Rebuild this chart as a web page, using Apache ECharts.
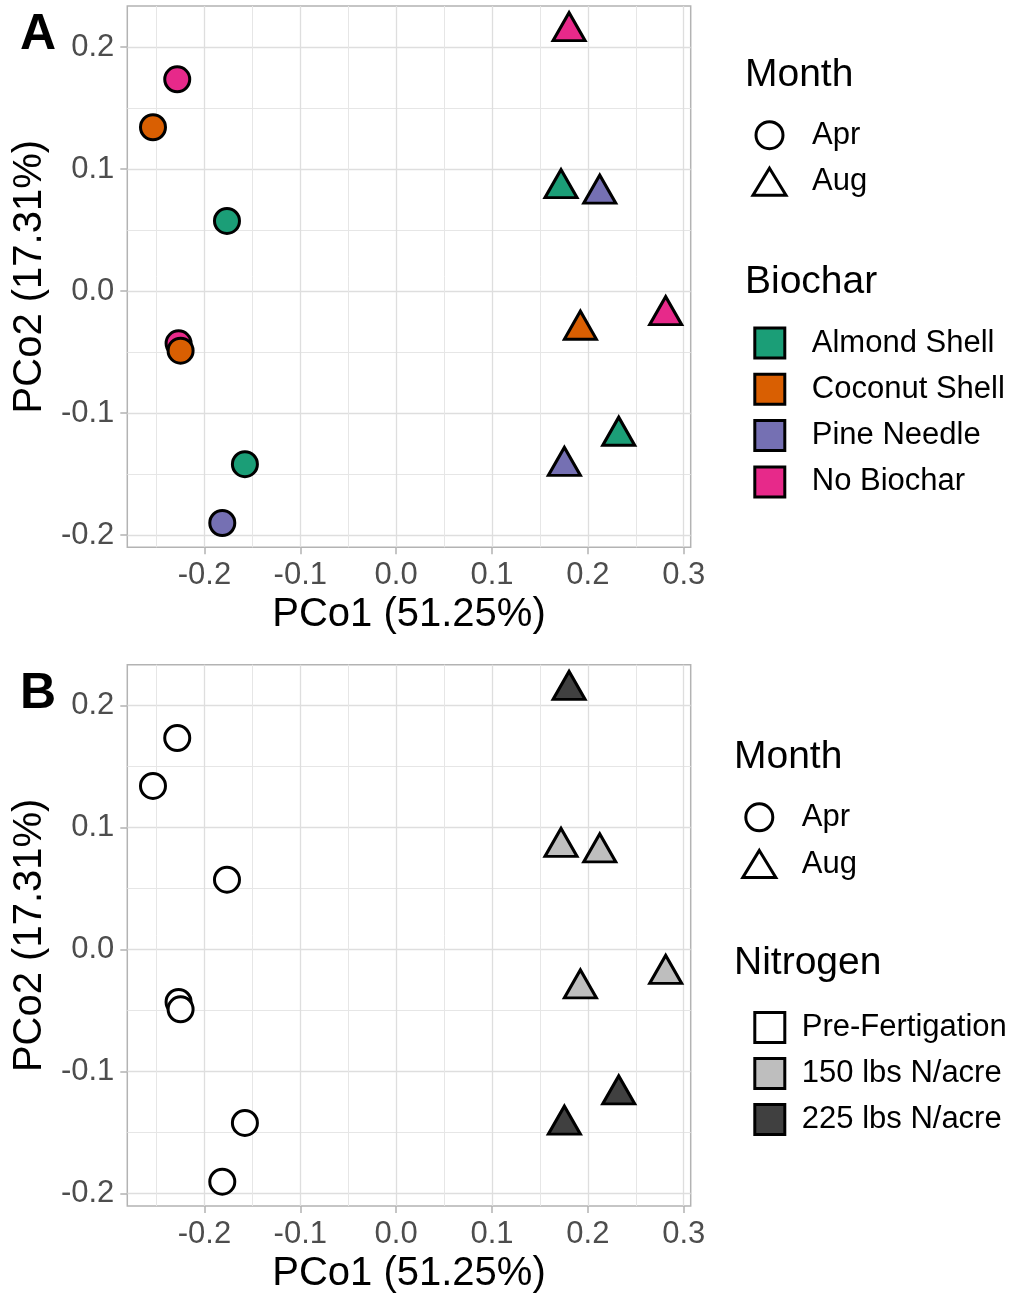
<!DOCTYPE html>
<html>
<head>
<meta charset="utf-8">
<script src="https://cdn.jsdelivr.net/npm/echarts@6/dist/echarts.min.js"></script>
<style>
html,body{margin:0;padding:0;background:#fff;}
#chart{width:1016px;height:1293px;}
</style>
</head>
<body>
<div id="chart"></div>
<script>
// ---------- data ----------
const biocharLevels = ['Almond Shell', 'Coconut Shell', 'Pine Needle', 'No Biochar'];
const nitrogenLevels = ['Pre-Fertigation', '150 lbs N/acre', '225 lbs N/acre'];
const monthLevels = ['Apr', 'Aug'];

const sampleMonth = ['Apr','Apr','Apr','Apr','Apr','Apr','Apr','Aug','Aug','Aug','Aug','Aug','Aug','Aug'];
const sampleBiochar = ['No Biochar','Coconut Shell','Almond Shell','No Biochar','Coconut Shell','Almond Shell','Pine Needle',
                       'No Biochar','Almond Shell','Pine Needle','Coconut Shell','No Biochar','Almond Shell','Pine Needle'];
const sampleNitrogen = ['Pre-Fertigation','Pre-Fertigation','Pre-Fertigation','Pre-Fertigation','Pre-Fertigation','Pre-Fertigation','Pre-Fertigation',
                        '225 lbs N/acre','150 lbs N/acre','150 lbs N/acre','150 lbs N/acre','150 lbs N/acre','225 lbs N/acre','225 lbs N/acre'];
const pco1 = [-0.2284, -0.2537, -0.1765, -0.2270, -0.2249, -0.1578, -0.1814,
               0.1804,  0.1720,  0.2124,  0.1922,  0.2812,  0.2322,  0.1755];
const pco2 = [ 0.1735,  0.1342,  0.0574, -0.0429, -0.0489, -0.1420, -0.1902,
               0.2129,  0.0841,  0.0797, -0.0319, -0.0200, -0.1188, -0.1435];

const xMajorTicks = [-0.2, -0.1, 0, 0.1, 0.2, 0.3];
const xMinorTicks = [-0.25, -0.15, -0.05, 0.05, 0.15, 0.25];
const yMajorTicks = [-0.2, -0.1, 0, 0.1, 0.2];
const yMinorTicks = [-0.15, -0.05, 0.05, 0.15];
const xLimits = [-0.2805, 0.3073];
const yLimits = [-0.2101, 0.2336];

const xTitle = 'PCo1 (51.25%)';
const yTitle = 'PCo2 (17.31%)';

// ---------- styles ----------
const FONT = 'Liberation Sans';
const biocharColor = {'Almond Shell':'#1b9e77','Coconut Shell':'#d95f02','Pine Needle':'#7570b3','No Biochar':'#e7298a'};
const nitrogenColor = {'Pre-Fertigation':'#ffffff','150 lbs N/acre':'#bebebe','225 lbs N/acre':'#404040'};
const monthSymbol = {'Apr':'circle','Aug':'triangle'};

const fmt = v => (Math.abs(v) < 1e-9 ? '0.0' : v.toFixed(1));

function mainAxis(isX, gridIndex) {
  return {
    type: 'value', gridIndex: gridIndex,
    min: isX ? xLimits[0] : yLimits[0],
    max: isX ? xLimits[1] : yLimits[1],
    position: isX ? 'bottom' : 'left',
    name: isX ? xTitle : yTitle,
    nameLocation: 'middle',
    nameGap: isX ? 47.8 : 76.3,
    nameTextStyle: {fontSize: 40, color: '#000', lineHeight: 40, fontFamily: FONT},
    axisLine: {show: false, onZero: false},
    axisTick: {show: true, customValues: isX ? xMajorTicks : yMajorTicks, length: 7,
               lineStyle: {color: '#b3b3b3', width: 1.5}},
    axisLabel: {customValues: isX ? xMajorTicks : yMajorTicks, formatter: fmt,
                fontSize: 31, color: '#4d4d4d', margin: 13, lineHeight: 31, fontFamily: FONT},
    splitLine: {show: true, lineStyle: {color: '#dedede', width: 1.3}},
    minorTick: {show: false}, minorSplitLine: {show: false}
  };
}
function minorAxis(isX, gridIndex) {
  return {
    type: 'value', gridIndex: gridIndex,
    min: isX ? xLimits[0] : yLimits[0],
    max: isX ? xLimits[1] : yLimits[1],
    position: isX ? 'top' : 'right',
    axisLine: {show: false, onZero: false},
    axisTick: {show: false, customValues: isX ? xMinorTicks : yMinorTicks},
    axisLabel: {show: false, customValues: isX ? xMinorTicks : yMinorTicks},
    splitLine: {show: true, lineStyle: {color: '#e6e6e6', width: 1}}
  };
}

function pointSeries(month, axisIdx, colorFn, name) {
  const data = [];
  for (let i = 0; i < pco1.length; i++) {
    if (sampleMonth[i] !== month) continue;
    data.push({value: [pco1[i], pco2[i]], itemStyle: {color: colorFn(i)}});
  }
  const tri = month === 'Aug';
  return {
    type: 'scatter', name: name, xAxisIndex: axisIdx, yAxisIndex: axisIdx,
    symbol: monthSymbol[month],
    symbolSize: tri ? [32, 28] : 25,
    symbolOffset: tri ? [0, -28 / 6] : [0, 0],
    itemStyle: {borderColor: '#000', borderWidth: 3, opacity: 1},
    emphasis: {disabled: true}, silent: true, z: 3,
    data: data
  };
}

const series = [
  pointSeries('Apr', 0, i => biocharColor[sampleBiochar[i]], 'Apr'),
  pointSeries('Aug', 0, i => biocharColor[sampleBiochar[i]], 'Aug'),
  pointSeries('Apr', 2, i => nitrogenColor[sampleNitrogen[i]], 'Apr'),
  pointSeries('Aug', 2, i => nitrogenColor[sampleNitrogen[i]], 'Aug')
];
biocharLevels.concat(nitrogenLevels).forEach(n => {
  series.push({type: 'scatter', name: n, xAxisIndex: 0, yAxisIndex: 0, data: [], silent: true,
               itemStyle: {opacity: 1}});
});

const legendTitle = (text, left, top) => ({
  text: text, left: left, top: top, padding: 0,
  textStyle: {fontSize: 39, fontWeight: 'normal', color: '#000', lineHeight: 39, fontFamily: FONT}
});
const panelTag = (text, top) => ({
  text: text, left: 20, top: top, padding: 0,
  textStyle: {fontSize: 50, fontWeight: 'bold', color: '#000', lineHeight: 50, fontFamily: FONT}
});

const keyStyle = c => ({color: c, borderColor: '#000', borderWidth: 3, opacity: 1});

const option = {
  animation: false,
  backgroundColor: '#fff',
  textStyle: {fontFamily: FONT},
  title: [
    panelTag('A', 10.7), panelTag('B', 669.7),
    legendTitle('Month', 745, 56), legendTitle('Biochar', 745, 262.5),
    legendTitle('Month', 734, 737.5), legendTitle('Nitrogen', 734, 944)
  ],
  legend: [
    {orient: 'vertical', left: 751.5, top: 119.7, padding: 0, itemWidth: 33, itemHeight: 27, itemGap: 15.5,
     selectedMode: false, textStyle: {fontSize: 31, lineHeight: 27, color: '#000', padding: [0, 0, 0, 21], fontFamily: FONT},
     data: monthLevels.map(m => ({name: m, icon: monthSymbol[m], itemStyle: keyStyle('#fff')}))},
    {orient: 'vertical', left: 753.3, top: 326.5, padding: 0, itemWidth: 30, itemHeight: 30, itemGap: 13.3,
     selectedMode: false, textStyle: {fontSize: 31, lineHeight: 30, color: '#000', padding: [0, 0, 0, 22], fontFamily: FONT},
     data: biocharLevels.map(b => ({name: b, icon: 'rect', itemStyle: keyStyle(biocharColor[b])}))},
    {orient: 'vertical', left: 741.3, top: 801.8, padding: 0, itemWidth: 33, itemHeight: 27, itemGap: 15.7,
     selectedMode: false, textStyle: {fontSize: 31, lineHeight: 27, color: '#000', padding: [0, 0, 0, 21], fontFamily: FONT},
     data: monthLevels.map(m => ({name: m, icon: monthSymbol[m], itemStyle: keyStyle('#fff')}))},
    {orient: 'vertical', left: 753.3, top: 1011, padding: 0, itemWidth: 30, itemHeight: 30, itemGap: 13,
     selectedMode: false, textStyle: {fontSize: 31, lineHeight: 30, color: '#000', padding: [0, 0, 0, 12], fontFamily: FONT},
     data: nitrogenLevels.map(n => ({name: n, icon: 'rect', itemStyle: keyStyle(nitrogenColor[n])}))}
  ],
  grid: [
    {left: 127.3, top: 6, width: 563.4, height: 541.3, show: true, borderColor: '#b3b3b3', borderWidth: 1.5,
     backgroundColor: 'transparent', containLabel: false, outerBoundsMode: 'none'},
    {left: 127.3, top: 664.7, width: 563.4, height: 541.3, show: true, borderColor: '#b3b3b3', borderWidth: 1.5,
     backgroundColor: 'transparent', containLabel: false, outerBoundsMode: 'none'}
  ],
  xAxis: [mainAxis(true, 0), minorAxis(true, 0), mainAxis(true, 1), minorAxis(true, 1)],
  yAxis: [mainAxis(false, 0), minorAxis(false, 0), mainAxis(false, 1), minorAxis(false, 1)],
  series: series
};

const chart = echarts.init(document.getElementById('chart'), null, {renderer: 'canvas'});
chart.setOption(option);
</script>
</body>
</html>
